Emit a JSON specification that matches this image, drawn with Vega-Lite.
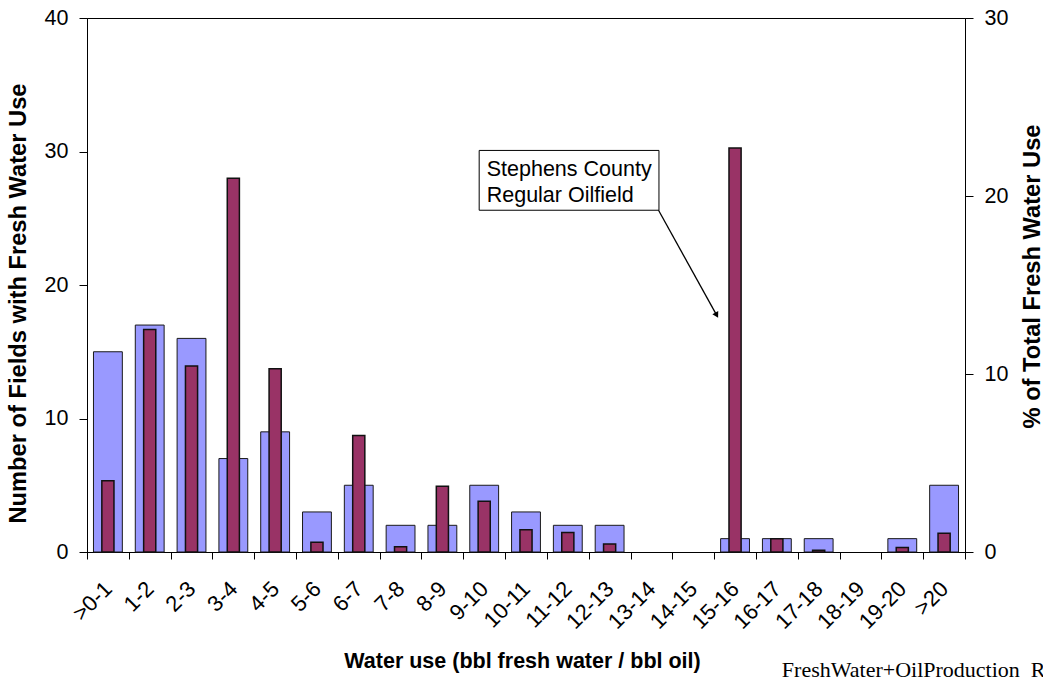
{
  "$schema": "https://vega.github.io/schema/vega-lite/v6.json",
  "width": 878,
  "height": 534,
  "autosize": "none",
  "padding": {"left": 87, "top": 18, "right": 78, "bottom": 125},
  "background": "white",
  "config": {
    "view": {"stroke": "black", "strokeWidth": 1},
    "font": "Liberation Sans",
    "axis": {"grid": false, "domainColor": "black", "tickColor": "black", "labelColor": "black", "titleColor": "black", "labelFont": "Liberation Sans", "titleFont": "Liberation Sans"}
  },
  "datasets": {
    "bins": [
      {"bin": ">0-1", "fields": 15, "pct": 4.0},
      {"bin": "1-2", "fields": 17, "pct": 12.5},
      {"bin": "2-3", "fields": 16, "pct": 10.45},
      {"bin": "3-4", "fields": 7, "pct": 21.0},
      {"bin": "4-5", "fields": 9, "pct": 10.3},
      {"bin": "5-6", "fields": 3, "pct": 0.55},
      {"bin": "6-7", "fields": 5, "pct": 6.55},
      {"bin": "7-8", "fields": 2, "pct": 0.3},
      {"bin": "8-9", "fields": 2, "pct": 3.7},
      {"bin": "9-10", "fields": 5, "pct": 2.85},
      {"bin": "10-11", "fields": 3, "pct": 1.25},
      {"bin": "11-12", "fields": 2, "pct": 1.1},
      {"bin": "12-13", "fields": 2, "pct": 0.45},
      {"bin": "13-14", "fields": 0, "pct": 0},
      {"bin": "14-15", "fields": 0, "pct": 0},
      {"bin": "15-16", "fields": 1, "pct": 22.7},
      {"bin": "16-17", "fields": 1, "pct": 0.75},
      {"bin": "17-18", "fields": 1, "pct": 0.1},
      {"bin": "18-19", "fields": 0, "pct": 0},
      {"bin": "19-20", "fields": 1, "pct": 0.25},
      {"bin": ">20", "fields": 5, "pct": 1.05}
    ],
    "box": [{"x1": 9.38, "x2": 13.68, "y1": 25.6, "y2": 30.08}],
    "notes": [
      {"label": "Stephens County", "x": 9.56, "y": 28.16},
      {"label": "Regular Oilfield", "x": 9.56, "y": 26.2}
    ],
    "arrow": [{"x1": 13.67, "y1": 25.6, "x2": 15.05, "y2": 17.8}],
    "footer": [{"label": "FreshWater+OilProduction\u00a0\u00a0RC", "x": 16.62, "y": -9.35}]
  },
  "layer": [
    {
      "data": {"name": "bins"},
      "transform": [{"filter": "datum.fields > 0"}],
      "mark": {"type": "bar", "fill": "#9999FF", "stroke": "#1a1a1a", "strokeWidth": 1, "width": {"band": 0.69}},
      "encoding": {
        "x": {"field": "bin", "type": "nominal", "sort": null,
          "scale": {"domain": [">0-1", "1-2", "2-3", "3-4", "4-5", "5-6", "6-7", "7-8", "8-9", "9-10", "10-11", "11-12", "12-13", "13-14", "14-15", "15-16", "16-17", "17-18", "18-19", "19-20", ">20"], "paddingInner": 0, "paddingOuter": 0},
          "axis": {"title": "Water use (bbl fresh water / bbl oil)", "labelAngle": -45, "labelAlign": "right", "labelBaseline": "middle", "labelFontSize": 22, "labelPadding": 26, "tickBand": "extent", "tickSize": 7, "titleFontSize": 21.5, "titleFontWeight": "bold", "titleX": 435, "titleY": 115, "titleBaseline": "alphabetic", "titleAlign": "center"}},
        "y": {"field": "fields", "type": "quantitative",
          "scale": {"domain": [0, 40], "nice": false},
          "axis": {"title": "Number of Fields with Fresh Water Use", "values": [0, 10, 20, 30, 40], "tickSize": 8, "labelFontSize": 21.5, "labelPadding": 11, "titleFontSize": 23.7, "titleFontWeight": "bold", "titleAngle": -90, "titleX": -62, "titleY": 285, "titleBaseline": "alphabetic", "titleAlign": "center"}}
      }
    },
    {
      "data": {"name": "bins"},
      "transform": [{"filter": "datum.pct > 0"}],
      "mark": {"type": "bar", "fill": "#993366", "stroke": "#111111", "strokeWidth": 1.5, "width": {"band": 0.29}},
      "encoding": {
        "x": {"field": "bin", "type": "nominal", "sort": null,
          "scale": {"domain": [">0-1", "1-2", "2-3", "3-4", "4-5", "5-6", "6-7", "7-8", "8-9", "9-10", "10-11", "11-12", "12-13", "13-14", "14-15", "15-16", "16-17", "17-18", "18-19", "19-20", ">20"], "paddingInner": 0, "paddingOuter": 0}, "axis": null},
        "y": {"field": "pct", "type": "quantitative",
          "scale": {"domain": [0, 30], "nice": false},
          "axis": {"orient": "right", "title": "% of Total Fresh Water Use", "values": [0, 10, 20, 30], "tickSize": 8, "labelFontSize": 21.5, "labelPadding": 11, "titleFontSize": 23.7, "titleFontWeight": "bold", "titleAngle": -90, "titleX": 74, "titleY": 258, "titleBaseline": "alphabetic", "titleAlign": "center"}}
      }
    },
    {
      "data": {"name": "box"},
      "mark": {"type": "rect", "fill": "white", "stroke": "black", "strokeWidth": 1},
      "encoding": {
        "x": {"field": "x1", "type": "quantitative", "scale": {"domain": [0, 21], "nice": false, "zero": false}, "axis": null},
        "x2": {"field": "x2"},
        "y": {"field": "y1", "type": "quantitative", "scale": {"domain": [0, 40], "nice": false}, "axis": null},
        "y2": {"field": "y2"}
      }
    },
    {
      "data": {"name": "notes"},
      "mark": {"type": "text", "align": "left", "baseline": "alphabetic", "fontSize": 21.5, "font": "Liberation Sans", "color": "black"},
      "encoding": {
        "x": {"field": "x", "type": "quantitative", "scale": {"domain": [0, 21], "nice": false, "zero": false}, "axis": null},
        "y": {"field": "y", "type": "quantitative", "scale": {"domain": [0, 40], "nice": false}, "axis": null},
        "text": {"field": "label"}
      }
    },
    {
      "data": {"name": "arrow"},
      "mark": {"type": "rule", "color": "black", "strokeWidth": 1.3},
      "encoding": {
        "x": {"field": "x1", "type": "quantitative", "scale": {"domain": [0, 21], "nice": false, "zero": false}, "axis": null},
        "x2": {"field": "x2"},
        "y": {"field": "y1", "type": "quantitative", "scale": {"domain": [0, 40], "nice": false}, "axis": null},
        "y2": {"field": "y2"}
      }
    },
    {
      "data": {"name": "arrow"},
      "mark": {"type": "point", "shape": "triangle", "filled": true, "color": "black", "size": 45, "angle": 151, "opacity": 1},
      "encoding": {
        "x": {"field": "x2", "type": "quantitative", "scale": {"domain": [0, 21], "nice": false, "zero": false}, "axis": null},
        "y": {"field": "y2", "type": "quantitative", "scale": {"domain": [0, 40], "nice": false}, "axis": null}
      }
    },
    {
      "data": {"name": "footer"},
      "mark": {"type": "text", "align": "left", "baseline": "alphabetic", "fontSize": 22, "font": "Liberation Serif", "color": "black"},
      "encoding": {
        "x": {"field": "x", "type": "quantitative", "scale": {"domain": [0, 21], "nice": false, "zero": false}, "axis": null},
        "y": {"field": "y", "type": "quantitative", "scale": {"domain": [0, 40], "nice": false}, "axis": null},
        "text": {"field": "label"}
      }
    }
  ],
  "resolve": {"scale": {"x": "independent", "y": "independent"}, "axis": {"x": "independent", "y": "independent"}}
}
